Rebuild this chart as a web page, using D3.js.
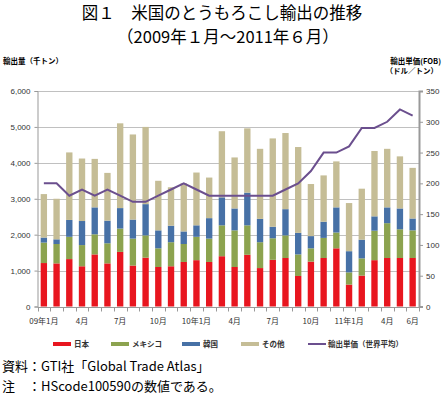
<!DOCTYPE html>
<html>
<head>
<meta charset="utf-8">
<script src="https://cdn.jsdelivr.net/npm/d3@7"></script>
<style>
  body { margin: 0; background: #fff; }
  svg { display: block; font-family: "Noto Sans CJK JP", "Noto Sans", sans-serif; }
  .grid line { stroke: #c0c0c0; stroke-width: 1; }
  .tickText { font-size: 8px; fill: #333; }
</style>
</head>
<body>
<script>
(function(){

  //months, Jan 2009 - Jun 2011
  var months = d3.range(30).map(function(i){ return "m" + i; });
  var monthLabels = {0: "09年1月", 3: "4月", 6: "7月", 9: "10月", 12: "10年1月", 15: "4月",
                     18: "7月", 21: "10月", 24: "11年1月", 27: "4月", 29: "6月"};

  //export volume by destination (thousand tons)
  var japan  = [1210,1200,1320,1120,1450,1200,1520,1140,1360,1100,1120,1240,1290,1240,1400,
                1100,1440,1070,1300,1350, 850,1250,1350,1620, 610, 860,1290,1350,1350,1350];
  var mexico = [ 570, 540, 620, 590, 560, 560, 650, 750, 620, 520, 670, 500, 650, 650, 860,
                1020, 820, 720, 600, 630, 600, 370, 560, 440, 340, 480, 820, 970, 800, 770];
  var korea  = [ 140, 130, 470, 670, 750, 630, 570, 530, 870, 500, 460, 350, 320, 570, 780,
                 610, 910, 650, 320, 730, 600, 340, 450, 700, 590, 520, 400, 440, 580, 330];
  var others = [1210,1130,1880,1740,1350,1330,2360,2370,2150,1380,1070,1340,1470,1130,1840,
                1420,1790,1950,2460,2120,2390,1450,1290,1280,1340,1420,1820,1630,1450,1410];

  //average export unit price (USD/ton, FOB)
  var price  = [ 200, 200, 180, 190, 180, 190, 180, 170, 170, 180, 190, 200, 190, 180, 180,
                 180, 180, 180, 180, 190, 200, 220, 250, 250, 260, 290, 290, 300, 320, 310];

  var leftTicks = [0, 1000, 2000, 3000, 4000, 5000, 6000];
  var rightTicks = [0, 50, 100, 150, 200, 250, 300, 350];

  var seriesKeys = ["japan", "mexico", "korea", "others"];
  var seriesNames = ["日本", "メキシコ", "韓国", "その他"];
  var colors = ["#e8161f", "#8ca34f", "#4771a6", "#c5bd96"];
  var lineColor = "#6b4f8e";

  var width = 445, height = 396;
  var margin = {left: 37.5, right: 26, top: 91, bottom: 89.5};

  var svg = d3.select("body").append("svg")
      .attr("width", width)
      .attr("height", height);

  //title
  svg.append("text")
      .attr("x", 222).attr("y", 18.5)
      .attr("text-anchor", "middle")
      .style("font-size", "16.5px")
      .text("図１　米国のとうもろこし輸出の推移");
  svg.append("text")
      .attr("x", 228).attr("y", 42.5)
      .attr("text-anchor", "middle")
      .style("font-size", "16.5px")
      .text("（2009年１月～2011年６月）");

  svg.append("text")
      .attr("x", 3).attr("y", 64)
      .style("font-size", "7.5px").style("font-weight", "bold")
      .text("輸出量（千トン）");
  svg.append("text")
      .attr("x", 441).attr("y", 64)
      .attr("text-anchor", "end")
      .style("font-size", "7.5px").style("font-weight", "bold")
      .text("輸出単価(FOB)");
  svg.append("text")
      .attr("x", 438).attr("y", 74)
      .attr("text-anchor", "end")
      .style("font-size", "7.5px").style("font-weight", "bold")
      .text("（ドル／トン）");

  //scales
  var x = d3.scaleBand()
      .domain(months)
      .range([margin.left, width - margin.right])
      .paddingInner(0.5)
      .paddingOuter(0.25);

  var y = d3.scaleLinear()
      .domain([0, 6000])
      .range([height - margin.bottom, margin.top]);

  var y2 = d3.scaleLinear()
      .domain([0, 350])
      .range([height - margin.bottom, margin.top]);

  //gridlines
  svg.append("g").attr("class", "grid")
      .selectAll("line")
      .data(leftTicks.slice(1))
      .enter().append("line")
      .attr("x1", margin.left).attr("x2", width - margin.right)
      .attr("y1", function(d){ return Math.round(y(d)) + 0.5; })
      .attr("y2", function(d){ return Math.round(y(d)) + 0.5; });

  //stacked bars
  var rows = months.map(function(m, i){
      return {month: m, japan: japan[i], mexico: mexico[i], korea: korea[i], others: others[i]};
  });
  var stacked = d3.stack().keys(seriesKeys)(rows);

  svg.append("g").selectAll("g")
      .data(stacked)
      .enter().append("g")
      .attr("fill", function(d, i){ return colors[i]; })
      .selectAll("rect")
      .data(function(d){ return d; })
      .enter().append("rect")
      .attr("x", function(d){ return x(d.data.month); })
      .attr("width", x.bandwidth())
      .attr("y", function(d){ return y(d[1]); })
      .attr("height", function(d){ return y(d[0]) - y(d[1]); });

  //left axis
  var leftAxis = svg.append("g")
      .attr("transform", "translate(" + margin.left + ",0)")
      .call(d3.axisLeft(y).tickValues(leftTicks).tickFormat(d3.format(",")).tickSize(3).tickPadding(4));
  leftAxis.select(".domain").attr("stroke", "#999");
  leftAxis.selectAll(".tick line").attr("stroke", "#999");
  leftAxis.selectAll("text").attr("class", "tickText").attr("font-family", null).attr("font-size", null);

  //right axis
  var rightAxis = svg.append("g")
      .attr("transform", "translate(" + (width - margin.right) + ",0)")
      .call(d3.axisRight(y2).tickValues(rightTicks).tickSize(4).tickPadding(3));
  rightAxis.select(".domain").attr("stroke", "#999").attr("stroke-width", 2);
  rightAxis.selectAll(".tick line").attr("stroke", "#999");
  rightAxis.selectAll("text").attr("class", "tickText").attr("font-family", null).attr("font-size", null);

  //bottom axis: ticks at band boundaries, labels under selected months
  var base = Math.round(y(0)) + 0.5;
  var bottom = svg.append("g");
  bottom.append("line")
      .attr("x1", margin.left).attr("x2", width - margin.right)
      .attr("y1", base).attr("y2", base)
      .attr("stroke", "#999");
  bottom.selectAll(".xtick")
      .data(d3.range(months.length + 1))
      .enter().append("line")
      .attr("class", "xtick")
      .attr("x1", function(i){ return Math.round(margin.left + i * x.step()) + 0.5; })
      .attr("x2", function(i){ return Math.round(margin.left + i * x.step()) + 0.5; })
      .attr("y1", base).attr("y2", base + 4)
      .attr("stroke", "#999");
  bottom.selectAll(".xlabel")
      .data(months.filter(function(m, i){ return monthLabels[i] !== undefined; }))
      .enter().append("text")
      .attr("class", "tickText")
      .attr("x", function(m){ return x(m) + x.bandwidth() / 2; })
      .attr("y", base + 16)
      .attr("text-anchor", "middle")
      .text(function(m){ return monthLabels[months.indexOf(m)]; });

  //unit price line
  var line = d3.line()
      .x(function(d, i){ return x(months[i]) + x.bandwidth() / 2; })
      .y(function(d){ return y2(d); });

  svg.append("path")
      .datum(price)
      .attr("fill", "none")
      .attr("stroke", lineColor)
      .attr("stroke-width", 2)
      .attr("d", line);

  //legend
  var legendX = [53, 111, 182, 241];
  var legend = svg.append("g");
  seriesNames.forEach(function(name, i){
      legend.append("rect")
          .attr("x", legendX[i]).attr("y", 342)
          .attr("width", 18).attr("height", 4)
          .attr("fill", colors[i]);
      legend.append("text")
          .attr("x", legendX[i] + 21).attr("y", 347)
          .style("font-size", "7.5px").style("font-weight", "bold").attr("fill", "#333")
          .text(name);
  });
  legend.append("line")
      .attr("x1", 308).attr("x2", 326)
      .attr("y1", 344).attr("y2", 344)
      .attr("stroke", lineColor).attr("stroke-width", 2);
  legend.append("text")
      .attr("x", 328).attr("y", 347)
      .style("font-size", "7.5px").style("font-weight", "bold").attr("fill", "#333")
      .text("輸出単価（世界平均）");

  //notes
  svg.append("text")
      .attr("x", 2).attr("y", 371)
      .style("font-size", "13px")
      .text("資料：GTI社「Global Trade Atlas」");
  svg.append("text")
      .attr("x", 2).attr("y", 391)
      .style("font-size", "13px")
      .text("注　：HScode100590の数値である。");

})();
</script>
</body>
</html>
